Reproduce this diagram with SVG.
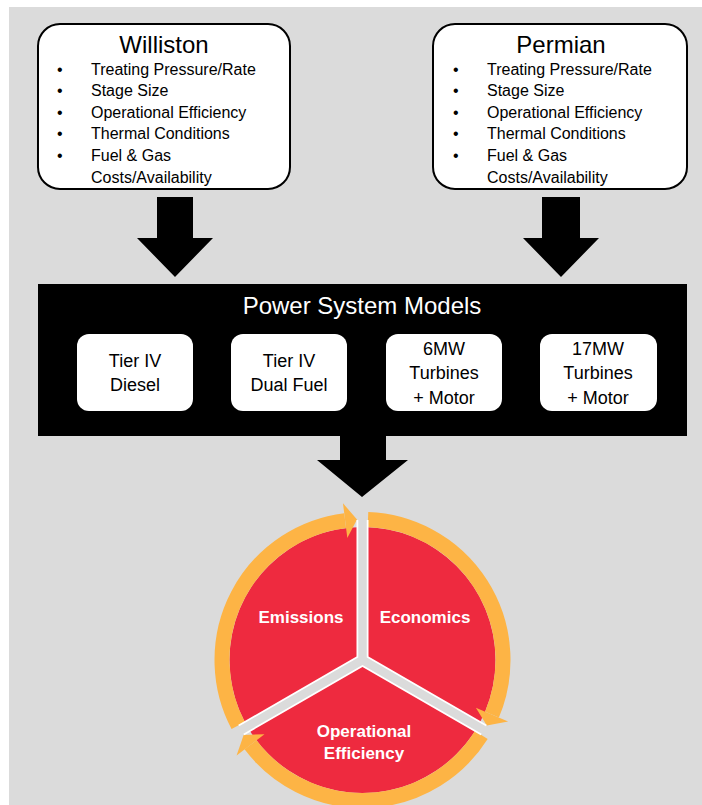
<svg xmlns="http://www.w3.org/2000/svg" width="702" height="805" viewBox="0 0 702 805">
  <defs>
    <style>
      .t { font-family: "Liberation Sans", Arial, sans-serif; fill: #000; }
      .title { font-size: 24px; text-anchor: middle; }
      .item { font-size: 16px; }
      .region { fill: #fff; stroke: #000; stroke-width: 2; }
      .band-title { font-family: "Liberation Sans", Arial, sans-serif; font-size: 24px; fill: #fff; text-anchor: middle; }
      .model { fill: #fff; }
      .model-label { font-family: "Liberation Sans", Arial, sans-serif; font-size: 18px; fill: #000; text-anchor: middle; }
      .block-arrow { fill: #000; }
      .ring { fill: none; stroke: #fdb445; stroke-width: 15; }
      .ring-head { fill: #fdb445; }
      .slice-label { font-family: "Liberation Sans", Arial, sans-serif; font-size: 17px; font-weight: bold; fill: #fff; text-anchor: middle; }
    </style>
  </defs>

  <!-- page background -->
  <rect x="0" y="0" width="702" height="805" fill="#fff"/>
  <rect x="9" y="7" width="693" height="798" fill="#dbdbdb"/>

  <!-- basin inputs -->
  <g id="williston">
    <rect class="region" x="38" y="24" width="252" height="165" rx="22"/>
    <text class="t title" x="164" y="53">Williston</text>
    <g class="t item">
      <text x="57" y="75">•</text><text x="91" y="75">Treating Pressure/Rate</text>
      <text x="57" y="96">•</text><text x="91" y="96">Stage Size</text>
      <text x="57" y="118">•</text><text x="91" y="118">Operational Efficiency</text>
      <text x="57" y="139">•</text><text x="91" y="139">Thermal Conditions</text>
      <text x="57" y="161">•</text><text x="91" y="161">Fuel &amp; Gas</text>
      <text x="91" y="183">Costs/Availability</text>
    </g>
  </g>

  <g id="permian">
    <rect class="region" x="433" y="24" width="254" height="165" rx="22"/>
    <text class="t title" x="561" y="53">Permian</text>
    <g class="t item">
      <text x="453" y="75">•</text><text x="487" y="75">Treating Pressure/Rate</text>
      <text x="453" y="96">•</text><text x="487" y="96">Stage Size</text>
      <text x="453" y="118">•</text><text x="487" y="118">Operational Efficiency</text>
      <text x="453" y="139">•</text><text x="487" y="139">Thermal Conditions</text>
      <text x="453" y="161">•</text><text x="487" y="161">Fuel &amp; Gas</text>
      <text x="487" y="183">Costs/Availability</text>
    </g>
  </g>

  <!-- power system models band -->
  <g id="power-system-models">
    <rect x="38" y="284" width="649" height="152" fill="#000"/>
    <text class="band-title" x="362" y="314">Power System Models</text>
    <g id="tier4-diesel">
      <rect class="model" x="77" y="334" width="116" height="77" rx="12"/>
      <text class="model-label" x="135" y="367">Tier IV</text>
      <text class="model-label" x="135" y="391">Diesel</text>
    </g>
    <g id="tier4-dual-fuel">
      <rect class="model" x="231" y="334" width="116" height="77" rx="12"/>
      <text class="model-label" x="289" y="367">Tier IV</text>
      <text class="model-label" x="289" y="391">Dual Fuel</text>
    </g>
    <g id="turbines-6mw">
      <rect class="model" x="386" y="334" width="116" height="77" rx="12"/>
      <text class="model-label" x="444" y="355">6MW</text>
      <text class="model-label" x="444" y="379">Turbines</text>
      <text class="model-label" x="444" y="404">+ Motor</text>
    </g>
    <g id="turbines-17mw">
      <rect class="model" x="540" y="334" width="117" height="77" rx="12"/>
      <text class="model-label" x="598" y="355">17MW</text>
      <text class="model-label" x="598" y="379">Turbines</text>
      <text class="model-label" x="598" y="404">+ Motor</text>
    </g>
  </g>

  <!-- block arrows -->
  <g id="connectors">
    <polygon class="block-arrow" points="157,197 193,197 193,238 213,238 175,277 137,238 157,238"/>
    <polygon class="block-arrow" points="542,197 580,197 580,238 599,238 561,277 523,238 542,238"/>
    <polygon class="block-arrow" points="340,436 386,436 386,460 408,460 362,497 317,460 340,460"/>
  </g>

  <!-- outcome cycle -->
  <g id="outcome-cycle">
    <circle cx="362.5" cy="660" r="133" fill="#ee2a3f"/>

    <!-- clockwise ring segments -->
    <path class="ring" d="M238.17 725.44 A140.5 140.5 0 0 1 345.13 520.58"/>
    <path class="ring" d="M367.99 519.61 A140.5 140.5 0 0 1 491.97 714.58"/>
    <path class="ring" d="M481.34 734.96 A140.5 140.5 0 0 1 250.52 744.83"/>
    <polygon class="ring-head" points="342.97,503.22 357.01,519.61 347.30,537.95"/>
    <polygon class="ring-head" points="508.10,721.38 486.83,725.44 475.84,707.79"/>
    <polygon class="ring-head" points="264.47,734.27 243.66,734.96 236.57,755.40"/>

    <!-- dividers between the three slices -->
    <path d="M362.5 660 L362.5 520 M362.5 660 L483.74 730 M362.5 660 L241.26 730" stroke="#fff" stroke-width="12" fill="none"/>
    <path d="M362.5 660 L362.5 518 M362.5 660 L485.5 731 M362.5 660 L239.5 731" stroke="#dbdbdb" stroke-width="8.5" fill="none"/>

    <g id="emissions"><text class="slice-label" x="301" y="623">Emissions</text></g>
    <g id="economics"><text class="slice-label" x="425" y="623">Economics</text></g>
    <g id="operational-efficiency">
      <text class="slice-label" x="364" y="737">Operational</text>
      <text class="slice-label" x="364" y="759">Efficiency</text>
    </g>
  </g>
</svg>
